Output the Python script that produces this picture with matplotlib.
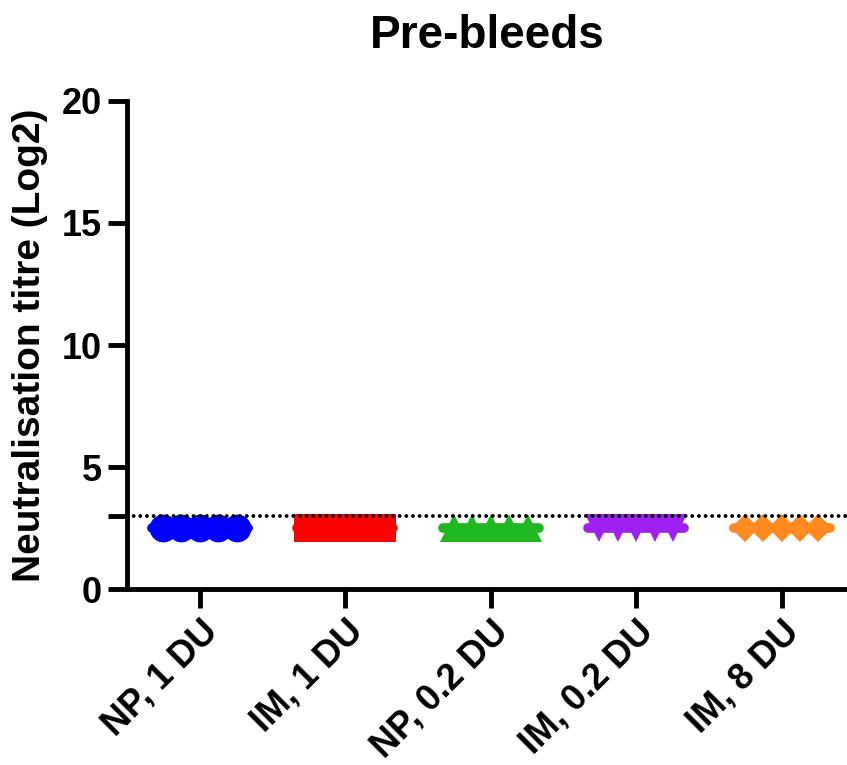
import numpy as np
import matplotlib.pyplot as plt

plt.rcParams['font.family'] = ['Liberation Sans', 'DejaVu Sans']
plt.rcParams['font.weight'] = 'bold'

# groups and their values (log2 titre, all below the detection limit)
groups = ['NP, 1 DU', 'IM, 1 DU', 'NP, 0.2 DU', 'IM, 0.2 DU', 'IM, 8 DU']
values = [
    [2.5, 2.5, 2.5, 2.5, 2.5],
    [2.5, 2.5, 2.5, 2.5, 2.5],
    [2.5, 2.5, 2.5, 2.5, 2.5],
    [2.5, 2.5, 2.5, 2.5, 2.5],
    [2.5, 2.5, 2.5, 2.5, 2.5],
]
colors = ['#0000ff', '#ff0000', '#20b820', '#a020f0', '#ff8a1e']
markers = ['o', 's', '^', 'v', 'D']
sizes = [20, 19.5, 20, 20, 14.5]
limit = 3  # detection limit

fig = plt.figure(figsize=(8.47, 7.65), dpi=100)
ax = fig.add_axes([0.150, 0.230, 0.850, 0.638])

offsets = np.array([-2, -1, 0, 1, 2]) * 0.127
for i, v in enumerate(values):
    ax.plot(i + offsets, v, linestyle='none', marker=markers[i],
            markersize=sizes[i], color=colors[i], markeredgewidth=0, zorder=3)
    med = np.median(v)
    ax.plot([i - 0.33, i + 0.33], [med, med], color=colors[i], lw=7,
            solid_capstyle='round', zorder=3)

# dotted detection limit
ax.plot([-0.5, 4.45], [limit, limit], color='black', lw=2.8,
        linestyle=(0, (0.01, 1.7)), dash_capstyle='round', zorder=4)

ax.set_xlim(-0.5, 4.45)
ax.set_ylim(0, 20)
ax.set_yticks([0, 5, 10, 15, 20])
ax.set_yticks([limit], minor=True)
ax.set_xticks(range(len(groups)))
ax.set_xticklabels(groups, rotation=45, ha='right', rotation_mode='anchor',
                   fontsize=26, fontweight='bold')
for t in ax.get_yticklabels():
    t.set_fontsize(26)
    t.set_fontweight('bold')

for s in ['top', 'right']:
    ax.spines[s].set_visible(False)
for s in ['left', 'bottom']:
    ax.spines[s].set_linewidth(3.5)
ax.tick_params(axis='both', which='both', length=14, width=3.5, pad=4)

ax.set_ylabel('Neutralisation titre (Log2)', fontsize=28, fontweight='bold',
              labelpad=10)
ax.set_title('Pre-bleeds', fontsize=33, fontweight='bold', pad=38)

fig.savefig('out.png', dpi=100)
